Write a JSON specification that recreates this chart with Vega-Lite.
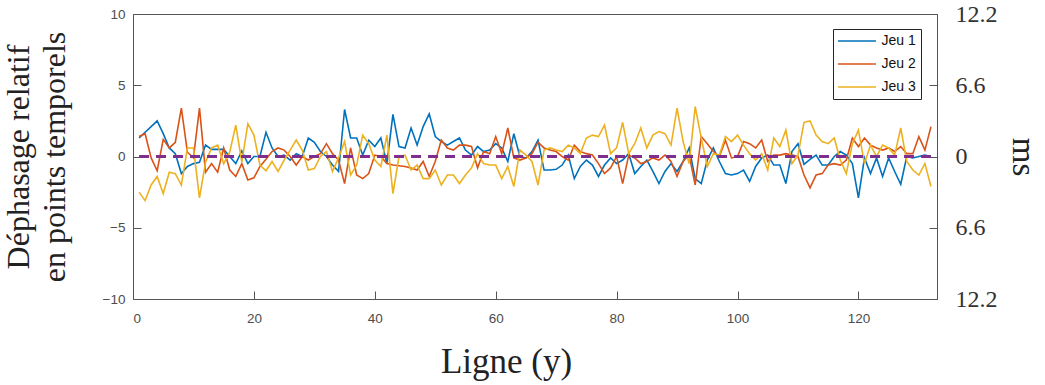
{
  "$schema": "https://vega.github.io/schema/vega-lite/v6.json",
  "width": 804,
  "height": 285,
  "autosize": "none",
  "padding": {"left": 133, "top": 14, "right": 108, "bottom": 86},
  "background": "white",
  "config": {
    "view": {"stroke": "#555555", "strokeWidth": 1},
    "axis": {"grid": false, "domainColor": "#555555", "tickColor": "#555555", "labelColor": "#4d4d4d", "labelFont": "Liberation Sans", "labelFontSize": 13.5, "titleFont": "Liberation Serif", "titleFontWeight": "normal", "titleColor": "#222222"}
  },
  "layer": [
    {
      "data": {"values": [
        {"x":1,"Jeu 1":1.3,"Jeu 2":1.4,"Jeu 3":-2.5},
        {"x":2,"Jeu 1":1.7,"Jeu 2":1.6,"Jeu 3":-3.1},
        {"x":3,"Jeu 1":2.1,"Jeu 2":-0.1,"Jeu 3":-2.0},
        {"x":4,"Jeu 1":2.5,"Jeu 2":-1.0,"Jeu 3":-1.4},
        {"x":5,"Jeu 1":1.6,"Jeu 2":1.2,"Jeu 3":-2.6},
        {"x":6,"Jeu 1":0.6,"Jeu 2":0.6,"Jeu 3":-1.1},
        {"x":7,"Jeu 1":0.2,"Jeu 2":1.0,"Jeu 3":-1.2},
        {"x":8,"Jeu 1":-1.2,"Jeu 2":3.4,"Jeu 3":-2.0},
        {"x":9,"Jeu 1":-0.7,"Jeu 2":0.3,"Jeu 3":0.6},
        {"x":10,"Jeu 1":-0.5,"Jeu 2":-0.1,"Jeu 3":0.6},
        {"x":11,"Jeu 1":-0.4,"Jeu 2":3.4,"Jeu 3":-2.9},
        {"x":12,"Jeu 1":0.8,"Jeu 2":-1.1,"Jeu 3":-0.4},
        {"x":13,"Jeu 1":0.5,"Jeu 2":-0.5,"Jeu 3":0.6},
        {"x":14,"Jeu 1":0.5,"Jeu 2":-1.1,"Jeu 3":0.8},
        {"x":15,"Jeu 1":0.5,"Jeu 2":0.6,"Jeu 3":-0.5},
        {"x":16,"Jeu 1":0.0,"Jeu 2":-0.95,"Jeu 3":0.3},
        {"x":17,"Jeu 1":-0.5,"Jeu 2":-1.4,"Jeu 3":2.2},
        {"x":18,"Jeu 1":0.4,"Jeu 2":-0.5,"Jeu 3":-0.4},
        {"x":19,"Jeu 1":-0.5,"Jeu 2":-1.65,"Jeu 3":2.3},
        {"x":20,"Jeu 1":0.0,"Jeu 2":-1.5,"Jeu 3":1.5},
        {"x":21,"Jeu 1":0.0,"Jeu 2":-0.7,"Jeu 3":-0.6},
        {"x":22,"Jeu 1":1.7,"Jeu 2":-0.2,"Jeu 3":-1.0},
        {"x":23,"Jeu 1":0.6,"Jeu 2":0.35,"Jeu 3":-0.35},
        {"x":24,"Jeu 1":0.0,"Jeu 2":0.6,"Jeu 3":-1.05},
        {"x":25,"Jeu 1":0.1,"Jeu 2":0.45,"Jeu 3":-0.25},
        {"x":26,"Jeu 1":-0.25,"Jeu 2":0.0,"Jeu 3":0.45},
        {"x":27,"Jeu 1":0.2,"Jeu 2":-0.6,"Jeu 3":1.15},
        {"x":28,"Jeu 1":0.0,"Jeu 2":0.0,"Jeu 3":0.45},
        {"x":29,"Jeu 1":1.3,"Jeu 2":-0.25,"Jeu 3":-0.95},
        {"x":30,"Jeu 1":1.0,"Jeu 2":0.0,"Jeu 3":-0.85},
        {"x":31,"Jeu 1":0.35,"Jeu 2":0.2,"Jeu 3":0.0},
        {"x":32,"Jeu 1":0.0,"Jeu 2":0.9,"Jeu 3":0.35},
        {"x":33,"Jeu 1":-0.6,"Jeu 2":0.2,"Jeu 3":-1.05},
        {"x":34,"Jeu 1":-1.05,"Jeu 2":-0.25,"Jeu 3":-0.1},
        {"x":35,"Jeu 1":3.3,"Jeu 2":-1.9,"Jeu 3":1.05},
        {"x":36,"Jeu 1":1.3,"Jeu 2":0.6,"Jeu 3":-1.3},
        {"x":37,"Jeu 1":1.3,"Jeu 2":-1.3,"Jeu 3":-0.6},
        {"x":38,"Jeu 1":0.1,"Jeu 2":-1.55,"Jeu 3":1.5},
        {"x":39,"Jeu 1":1.15,"Jeu 2":-1.2,"Jeu 3":0.9},
        {"x":40,"Jeu 1":0.7,"Jeu 2":0.1,"Jeu 3":-0.25},
        {"x":41,"Jeu 1":1.3,"Jeu 2":0.0,"Jeu 3":-0.7},
        {"x":42,"Jeu 1":-0.5,"Jeu 2":-0.5,"Jeu 3":1.5},
        {"x":43,"Jeu 1":2.95,"Jeu 2":-0.6,"Jeu 3":-2.6},
        {"x":44,"Jeu 1":0.7,"Jeu 2":-0.65,"Jeu 3":0.0},
        {"x":45,"Jeu 1":0.6,"Jeu 2":-0.7,"Jeu 3":0.1},
        {"x":46,"Jeu 1":2.0,"Jeu 2":-0.8,"Jeu 3":-0.95},
        {"x":47,"Jeu 1":0.8,"Jeu 2":-0.95,"Jeu 3":-0.6},
        {"x":48,"Jeu 1":2.1,"Jeu 2":-0.35,"Jeu 3":-1.55},
        {"x":49,"Jeu 1":3.0,"Jeu 2":-1.4,"Jeu 3":-1.55},
        {"x":50,"Jeu 1":1.4,"Jeu 2":-0.35,"Jeu 3":-0.95},
        {"x":51,"Jeu 1":1.05,"Jeu 2":1.15,"Jeu 3":-2.0},
        {"x":52,"Jeu 1":0.8,"Jeu 2":0.6,"Jeu 3":-1.3},
        {"x":53,"Jeu 1":1.05,"Jeu 2":0.45,"Jeu 3":-1.3},
        {"x":54,"Jeu 1":1.3,"Jeu 2":0.8,"Jeu 3":-1.9},
        {"x":55,"Jeu 1":0.45,"Jeu 2":0.8,"Jeu 3":-1.3},
        {"x":56,"Jeu 1":0.1,"Jeu 2":0.7,"Jeu 3":-0.8},
        {"x":57,"Jeu 1":0.7,"Jeu 2":-0.8,"Jeu 3":0.2},
        {"x":58,"Jeu 1":0.35,"Jeu 2":0.35,"Jeu 3":-0.5},
        {"x":59,"Jeu 1":0.45,"Jeu 2":0.2,"Jeu 3":-0.6},
        {"x":60,"Jeu 1":0.9,"Jeu 2":1.4,"Jeu 3":-0.6},
        {"x":61,"Jeu 1":0.6,"Jeu 2":0.2,"Jeu 3":-1.55},
        {"x":62,"Jeu 1":-0.35,"Jeu 2":2.0,"Jeu 3":-0.7},
        {"x":63,"Jeu 1":1.6,"Jeu 2":-0.1,"Jeu 3":-2.1},
        {"x":64,"Jeu 1":0.0,"Jeu 2":-0.25,"Jeu 3":0.45},
        {"x":65,"Jeu 1":-0.1,"Jeu 2":-0.1,"Jeu 3":0.1},
        {"x":66,"Jeu 1":0.35,"Jeu 2":0.2,"Jeu 3":-0.35},
        {"x":67,"Jeu 1":1.15,"Jeu 2":1.0,"Jeu 3":-2.0},
        {"x":68,"Jeu 1":-0.95,"Jeu 2":0.6,"Jeu 3":0.45},
        {"x":69,"Jeu 1":-0.95,"Jeu 2":0.45,"Jeu 3":0.6},
        {"x":70,"Jeu 1":-0.9,"Jeu 2":0.35,"Jeu 3":0.45},
        {"x":71,"Jeu 1":-0.6,"Jeu 2":0.0,"Jeu 3":0.35},
        {"x":72,"Jeu 1":0.1,"Jeu 2":-0.25,"Jeu 3":0.8},
        {"x":73,"Jeu 1":-1.55,"Jeu 2":0.8,"Jeu 3":0.6},
        {"x":74,"Jeu 1":-0.7,"Jeu 2":0.35,"Jeu 3":0.2},
        {"x":75,"Jeu 1":-0.25,"Jeu 2":0.2,"Jeu 3":1.3},
        {"x":76,"Jeu 1":-0.6,"Jeu 2":0.1,"Jeu 3":1.5},
        {"x":77,"Jeu 1":-1.4,"Jeu 2":-0.5,"Jeu 3":1.4},
        {"x":78,"Jeu 1":-0.6,"Jeu 2":-1.2,"Jeu 3":2.2},
        {"x":79,"Jeu 1":-0.1,"Jeu 2":-0.8,"Jeu 3":0.2},
        {"x":80,"Jeu 1":-0.5,"Jeu 2":0.0,"Jeu 3":0.6},
        {"x":81,"Jeu 1":-0.25,"Jeu 2":-1.9,"Jeu 3":2.4},
        {"x":82,"Jeu 1":0.2,"Jeu 2":0.1,"Jeu 3":0.2},
        {"x":83,"Jeu 1":-1.2,"Jeu 2":-0.1,"Jeu 3":0.9},
        {"x":84,"Jeu 1":-0.7,"Jeu 2":-0.5,"Jeu 3":2.0},
        {"x":85,"Jeu 1":-0.25,"Jeu 2":-0.35,"Jeu 3":0.6},
        {"x":86,"Jeu 1":-1.05,"Jeu 2":-0.1,"Jeu 3":1.5},
        {"x":87,"Jeu 1":-1.9,"Jeu 2":-0.25,"Jeu 3":1.75},
        {"x":88,"Jeu 1":-1.05,"Jeu 2":0.1,"Jeu 3":1.6},
        {"x":89,"Jeu 1":-0.5,"Jeu 2":-0.35,"Jeu 3":0.8},
        {"x":90,"Jeu 1":-1.05,"Jeu 2":-1.4,"Jeu 3":3.4},
        {"x":91,"Jeu 1":-0.35,"Jeu 2":-0.35,"Jeu 3":1.05},
        {"x":92,"Jeu 1":0.6,"Jeu 2":0.1,"Jeu 3":-0.5},
        {"x":93,"Jeu 1":-1.55,"Jeu 2":-2.0,"Jeu 3":3.5},
        {"x":94,"Jeu 1":-1.9,"Jeu 2":1.4,"Jeu 3":1.3},
        {"x":95,"Jeu 1":-0.25,"Jeu 2":0.9,"Jeu 3":-0.7},
        {"x":96,"Jeu 1":0.6,"Jeu 2":0.35,"Jeu 3":0.2},
        {"x":97,"Jeu 1":-0.35,"Jeu 2":0.0,"Jeu 3":0.1},
        {"x":98,"Jeu 1":-1.2,"Jeu 2":1.15,"Jeu 3":1.4},
        {"x":99,"Jeu 1":-1.3,"Jeu 2":-0.1,"Jeu 3":1.05},
        {"x":100,"Jeu 1":-1.2,"Jeu 2":0.0,"Jeu 3":1.5},
        {"x":101,"Jeu 1":-0.95,"Jeu 2":1.05,"Jeu 3":0.8},
        {"x":102,"Jeu 1":-1.75,"Jeu 2":0.9,"Jeu 3":0.2},
        {"x":103,"Jeu 1":-0.7,"Jeu 2":0.6,"Jeu 3":-0.25},
        {"x":104,"Jeu 1":-0.1,"Jeu 2":1.15,"Jeu 3":0.2},
        {"x":105,"Jeu 1":0.1,"Jeu 2":-0.35,"Jeu 3":-0.95},
        {"x":106,"Jeu 1":-0.6,"Jeu 2":0.1,"Jeu 3":1.3},
        {"x":107,"Jeu 1":-0.6,"Jeu 2":0.1,"Jeu 3":0.7},
        {"x":108,"Jeu 1":-1.9,"Jeu 2":0.2,"Jeu 3":1.85},
        {"x":109,"Jeu 1":0.35,"Jeu 2":0.1,"Jeu 3":-0.5},
        {"x":110,"Jeu 1":0.9,"Jeu 2":0.0,"Jeu 3":0.1},
        {"x":111,"Jeu 1":-0.55,"Jeu 2":-1.3,"Jeu 3":2.4},
        {"x":112,"Jeu 1":-0.2,"Jeu 2":-2.2,"Jeu 3":2.5},
        {"x":113,"Jeu 1":0.1,"Jeu 2":-1.3,"Jeu 3":1.5},
        {"x":114,"Jeu 1":-0.6,"Jeu 2":-1.2,"Jeu 3":1.05},
        {"x":115,"Jeu 1":-0.6,"Jeu 2":-0.6,"Jeu 3":0.9},
        {"x":116,"Jeu 1":0.0,"Jeu 2":-0.5,"Jeu 3":1.3},
        {"x":117,"Jeu 1":0.35,"Jeu 2":-0.6,"Jeu 3":-0.25},
        {"x":118,"Jeu 1":0.1,"Jeu 2":-0.25,"Jeu 3":-1.2},
        {"x":119,"Jeu 1":-0.5,"Jeu 2":1.3,"Jeu 3":0.9},
        {"x":120,"Jeu 1":-2.9,"Jeu 2":0.7,"Jeu 3":1.85},
        {"x":121,"Jeu 1":-0.1,"Jeu 2":1.3,"Jeu 3":-0.5},
        {"x":122,"Jeu 1":-1.2,"Jeu 2":0.8,"Jeu 3":0.8},
        {"x":123,"Jeu 1":-0.1,"Jeu 2":0.6,"Jeu 3":0.0},
        {"x":124,"Jeu 1":-1.4,"Jeu 2":0.45,"Jeu 3":0.8},
        {"x":125,"Jeu 1":-0.1,"Jeu 2":0.6,"Jeu 3":0.6},
        {"x":126,"Jeu 1":-1.05,"Jeu 2":0.35,"Jeu 3":0.1},
        {"x":127,"Jeu 1":-1.95,"Jeu 2":0.7,"Jeu 3":2.0},
        {"x":128,"Jeu 1":0.0,"Jeu 2":0.2,"Jeu 3":-0.35},
        {"x":129,"Jeu 1":-0.1,"Jeu 2":0.2,"Jeu 3":-0.95},
        {"x":130,"Jeu 1":0.0,"Jeu 2":1.4,"Jeu 3":-1.3},
        {"x":131,"Jeu 1":0.1,"Jeu 2":0.45,"Jeu 3":-0.5},
        {"x":132,"Jeu 1":0.0,"Jeu 2":2.1,"Jeu 3":-2.1}
      ]},
      "transform": [{"fold": ["Jeu 1", "Jeu 2", "Jeu 3"], "as": ["serie", "v"]}],
      "mark": {"type": "line", "strokeWidth": 1.6},
      "encoding": {
        "x": {"field": "x", "type": "quantitative", "scale": {"domain": [0, 133], "nice": false, "zero": false},
          "axis": {"values": [0, 20, 40, 60, 80, 100, 120], "tickSize": -8, "labelPadding": 20, "title": "Ligne (y)", "titleFontSize": 35, "titlePadding": 20, "titleX": 373}},
        "y": {"field": "v", "type": "quantitative", "scale": {"domain": [-10, 10], "nice": false},
          "axis": {"values": [-10, -5, 0, 5, 10], "tickSize": -8, "labelPadding": 16, "title": ["Déphasage relatif", "en points temporels"], "titleFontSize": 32, "titleLineHeight": 36, "titlePadding": 31}},
        "color": {"field": "serie", "type": "nominal",
          "scale": {"domain": ["Jeu 1", "Jeu 2", "Jeu 3"], "range": ["#0072BD", "#D95319", "#EDB120"]},
          "legend": {"title": null, "orient": "none", "legendX": 700, "legendY": 15, "direction": "vertical",
            "symbolType": "M-3,0H3", "symbolSize": 160, "symbolStrokeWidth": 1.6, "symbolOffset": 12, "labelFont": "Liberation Sans", "labelFontSize": 14, "labelColor": "#111111",
            "strokeColor": "#262626", "fillColor": "white", "padding": 4.5, "rowPadding": 8, "labelOffset": 17}}
      }
    },
    {
      "data": {"values": [{"x": 1, "z": 0}, {"x": 132, "z": 0}]},
      "mark": {"type": "line", "color": "#7E2F8E", "strokeWidth": 3, "strokeDash": [10, 7]},
      "encoding": {
        "x": {"field": "x", "type": "quantitative"},
        "y": {"field": "z", "type": "quantitative", "scale": {"domain": [-10, 10], "nice": false},
          "axis": {"orient": "right", "values": [-10, -5, 0, 5, 10], "tickSize": -8, "labelPadding": 26,
            "labelExpr": "abs(datum.value) == 10 ? '12.2' : abs(datum.value) == 5 ? '6.6' : '0'",
            "labelFont": "Liberation Serif", "labelFontSize": 24, "labelColor": "#333333",
            "title": "ms", "titleFontSize": 33, "titlePadding": 8}}
      }
    }
  ],
  "resolve": {"scale": {"y": "independent"}, "axis": {"y": "independent"}}
}
